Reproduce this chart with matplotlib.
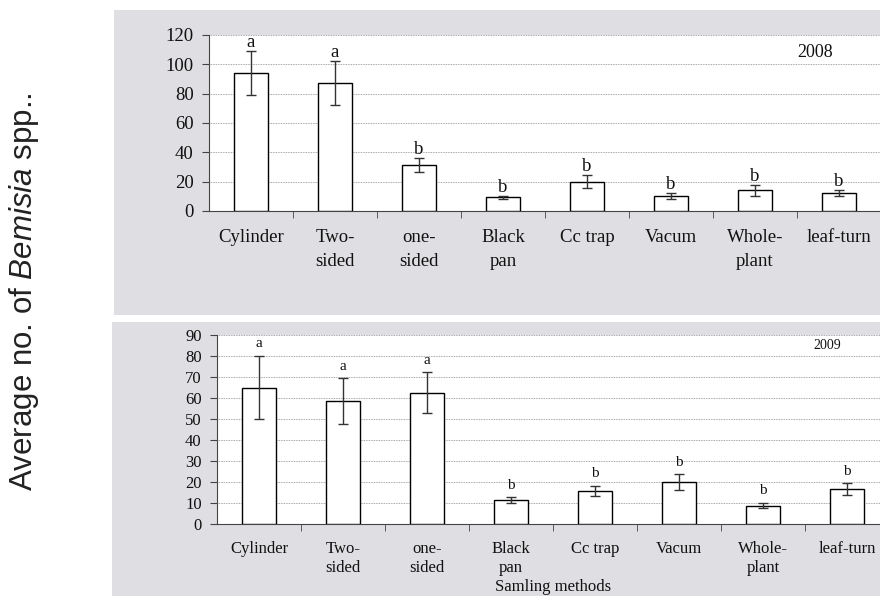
import numpy as np
import matplotlib
matplotlib.use('Agg')
import matplotlib.pyplot as plt
from matplotlib.patches import Rectangle

plt.rcParams['font.family'] = ['Liberation Serif', 'DejaVu Serif']
plt.rcParams['mathtext.fontset'] = 'custom'
plt.rcParams['mathtext.rm'] = 'Liberation Sans'
plt.rcParams['mathtext.it'] = 'Liberation Sans:italic'

methods = ['Cylinder', 'Two-\nsided', 'one-\nsided', 'Black\npan', 'Cc trap',
           'Vacum', 'Whole-\nplant', 'leaf-turn']

mean_2008 = [94, 87, 31.4, 9.3, 20, 10.5, 14, 12.3]
err_2008 = [15, 15, 5, 0.8, 4.5, 2, 3.7, 2.2]
letters_2008 = ['a', 'a', 'b', 'b', 'b', 'b', 'b', 'b']

mean_2009 = [65, 58.5, 62.5, 11.3, 15.6, 20, 8.8, 16.6]
err_2009 = [15, 11, 9.7, 1.5, 2.5, 3.7, 1.3, 2.7]
letters_2009 = ['a', 'a', 'a', 'b', 'b', 'b', 'b', 'b']

panel_bg = '#dfdfe3'

fig = plt.figure(figsize=(8.8, 5.96), dpi=100)
fig.patches.append(Rectangle((0.1295, 0.4715), 0.88, 0.5115, transform=fig.transFigure,
                             facecolor=panel_bg, edgecolor='none', zorder=-10))
fig.patches.append(Rectangle((0.1273, 0.0), 0.88, 0.4597, transform=fig.transFigure,
                             facecolor=panel_bg, edgecolor='none', zorder=-10))


def draw_panel(ax, means, errs, letters, ymax, ystep, year, fs, fs_small, pad, lspace,
               year_xy, year_fs, letter_off):
    x = np.arange(len(methods))
    ax.set_facecolor('white')
    ax.bar(x, means, width=0.4, color='white', edgecolor='black', linewidth=1.0, zorder=3)
    ax.errorbar(x, means, yerr=errs, fmt='none', ecolor='#333333', elinewidth=1.0,
                capsize=3.5, capthick=1.0, zorder=4)
    for xi, m, e, l in zip(x, means, errs, letters):
        ax.annotate(l, (xi, m + e), xytext=(0, letter_off), textcoords='offset points',
                    ha='center', va='bottom', fontsize=fs_small, color='#111111')
    ax.set_xlim(-0.5, len(methods) - 0.5)
    ax.set_ylim(0, ymax)
    ax.set_yticks(np.arange(0, ymax + 1, ystep))
    ax.yaxis.grid(True, linestyle=(0, (1, 1)), linewidth=0.6, color='#8a8a8a', zorder=0)
    for s in ['top', 'right']:
        ax.spines[s].set_visible(False)
    ax.spines['left'].set_color('#444444')
    ax.spines['bottom'].set_color('#444444')
    ax.set_xticks(x)
    ax.set_xticklabels(methods, fontsize=fs, linespacing=lspace, color='#111111')
    ax.set_xticks(np.arange(0.5, len(methods) - 0.5, 1), minor=True)
    ax.tick_params(axis='x', which='major', length=0, pad=pad)
    ax.tick_params(axis='x', which='minor', length=5, direction='out', color='#444444')
    ax.tick_params(axis='y', length=5, direction='out', color='#444444', pad=6,
                   labelsize=fs, labelcolor='#111111')
    ax.text(year_xy[0], year_xy[1], year, transform=ax.transAxes, ha='center', va='center',
            fontsize=year_fs, color='#111111')


ax1 = fig.add_axes([0.2375, 0.646, 0.7636, 0.2953])
draw_panel(ax1, mean_2008, err_2008, letters_2008, 120, 20, '2008', 13.5, 13.5, 13, 1.5,
           (0.902, 0.903), 13, 0)

ax2 = fig.add_axes([0.2466, 0.1208, 0.7636, 0.3171])
draw_panel(ax2, mean_2009, err_2009, letters_2009, 90, 10, '2009', 12, 11, 12, 1.3,
           (0.908, 0.947), 10, 4)
ax2.set_xlabel('Samling methods', fontsize=12, labelpad=2, color='#111111')

fig.text(0.027, 0.511, 'Average no. of $\\it{Bemisia}$ spp..', rotation=90,
         ha='center', va='center', fontsize=22.5, family='Liberation Sans', color='#222222')

fig.savefig('out.png', dpi=100)
